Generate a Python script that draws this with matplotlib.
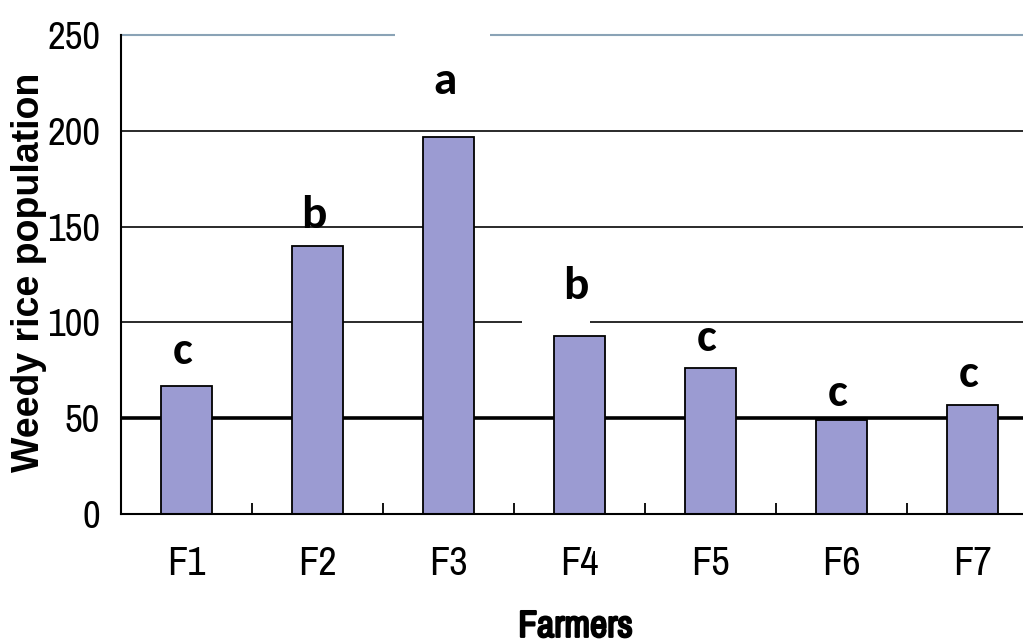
import matplotlib
matplotlib.use('Agg')
import matplotlib.pyplot as plt
import matplotlib.patheffects as pe
from matplotlib.patches import Rectangle
from matplotlib import font_manager
import numpy as np

# ---------------------------------------------------------------------------
# Data
# ---------------------------------------------------------------------------
farmers = ['F1', 'F2', 'F3', 'F4', 'F5', 'F6', 'F7']
population = [67, 140, 197, 93, 76, 49, 57]
letters = ['c', 'b', 'a', 'b', 'c', 'c', 'c']
letter_y = [85, 156, 226, 119, 92, 63, 73]
y_ticks = [0, 50, 100, 150, 200, 250]

BAR_COLOR = '#9b9bd2'


def first_font(candidates):
    """Pick the first installed family out of a list of candidates."""
    have = {f.name for f in font_manager.fontManager.ttflist}
    for c in candidates:
        if c in have:
            return [c, 'DejaVu Sans']
    return ['DejaVu Sans']


NARROW = first_font(['Liberation Sans Narrow', 'Arial Narrow', 'Archivo Narrow',
                     'PT Sans Narrow', 'Roboto Condensed', 'Open Sans Condensed',
                     'Liberation Sans'])
BOLD_LETTER = first_font(['Carlito', 'Lato', 'Open Sans'])
SANS = first_font(['Liberation Sans', 'Arimo', 'Arial'])

fig = plt.figure(figsize=(10.23, 6.43), dpi=100)
ax = fig.add_axes([0.1183, 0.2006, 0.8817, 0.745])

x = np.arange(len(farmers))

# gridlines (50 drawn heavier, 250 lighter as in the original)
for yv in y_ticks[1:]:
    if yv == 50:
        ax.axhline(yv, color='black', linewidth=2.6, zorder=1)
    elif yv == 250:
        ax.axhline(yv, color='#8aa3b6', linewidth=1.5, zorder=1, clip_on=False)
    else:
        ax.axhline(yv, color='#2a2a2a', linewidth=1.4, zorder=1)

# white text boxes behind the 'a' (F3) and second 'b' (F4) labels break the lines
ax.add_patch(Rectangle((x[2] - 0.41, 205), 0.73, 50, facecolor='white',
                       edgecolor='none', zorder=1.5, clip_on=False))
ax.add_patch(Rectangle((x[3] - 0.44, 97), 0.52, 43, facecolor='white',
                       edgecolor='none', zorder=1.5))

ax.bar(x, population, width=0.39, color=BAR_COLOR, edgecolor='black',
       linewidth=1.3, zorder=2)

for xi, lab, ly in zip(x, letters, letter_y):
    ax.text(xi - 0.03, ly, lab, ha='center', va='center', fontsize=34,
            fontweight='bold', family=BOLD_LETTER, zorder=3)

ax.set_xlim(-0.5, 6.385)
ax.set_ylim(0, 250)
ax.set_yticks(y_ticks)
ax.set_yticklabels([str(v) for v in y_ticks], family=NARROW, fontsize=28)
ax.tick_params(axis='y', length=0, pad=15)

ax.set_xticks(x)
ax.set_xticklabels(farmers, family=NARROW, fontsize=29)
ax.set_xticks(x[:-1] + 0.5, minor=True)
ax.tick_params(axis='x', which='major', length=0, pad=22)
ax.tick_params(axis='x', which='minor', direction='in', length=8, width=1.3)

for side in ['top', 'right']:
    ax.spines[side].set_visible(False)
for side in ['left', 'bottom']:
    ax.spines[side].set_linewidth(1.5)
    ax.spines[side].set_color('black')

ax.set_ylabel('Weedy rice population', fontsize=27, fontweight='bold',
              family=SANS)
ax.yaxis.set_label_coords(-0.082, 0.505)
# the narrow face has no bold cut, so thicken it with a stroke
xl = ax.set_xlabel('Farmers', fontsize=27, fontweight='bold', family=NARROW)
xl.set_path_effects([pe.withStroke(linewidth=1.6, foreground='black')])
ax.xaxis.set_label_coords(0.504, -0.2)

fig.savefig('out.png', dpi=100)
